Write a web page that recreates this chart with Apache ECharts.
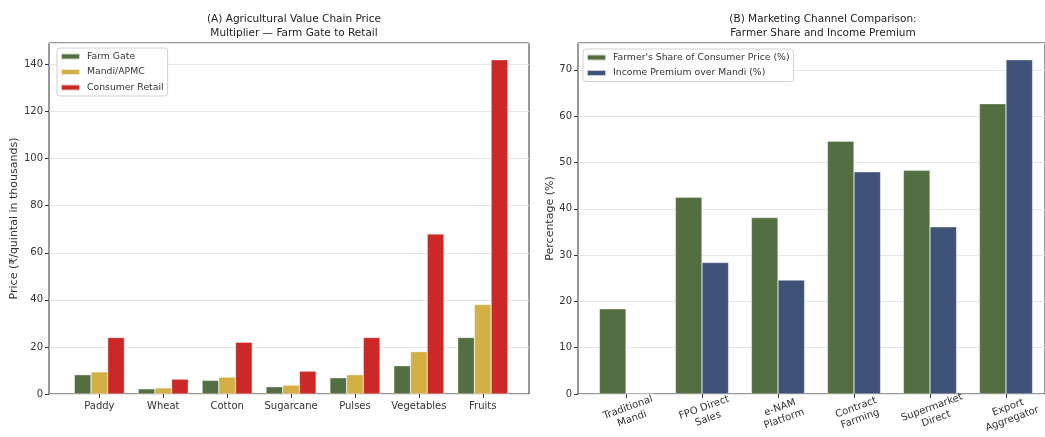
<!DOCTYPE html>
<html><head><meta charset="utf-8">
<script src="https://cdn.jsdelivr.net/npm/echarts@6/dist/echarts.min.js"></script>
<style>html,body{margin:0;padding:0;background:#fff}#c{width:1045px;height:437px}</style>
</head><body><div id="c"></div>
<script>
const catsA = ['Paddy','Wheat','Cotton','Sugarcane','Pulses','Vegetables','Fruits'];
const farmGate = [8.2,2.2,5.8,3.1,6.9,12.0,24.0];
const mandi = [9.4,2.6,7.2,3.8,8.2,18.0,38.0];
const retail = [24.0,6.3,22.0,9.7,24.0,68.0,142.0];
const catsB = ['Traditional\nMandi','FPO Direct\nSales','e-NAM\nPlatform','Contract\nFarming','Supermarket\nDirect','Export\nAggregator'];
const farmerShare = [18.4,42.5,38.1,54.6,48.3,62.7];
const incomePremium = [0,28.4,24.6,48.0,36.1,72.2];
const yMaxA = 142*1.05, yStepA = 20;
const yMaxB = 72.2*1.05, yStepB = 10;

const FONT = 'DejaVu Sans';
const txt = '#333';
const chart = echarts.init(document.getElementById('c'), null, {renderer:'canvas'});
const frameGrid = (l,w)=>({left:l, width:w, top:43, bottom:43, show:true, borderColor:'#333', borderWidth:1, backgroundColor:'transparent'});
const innerGrid = (l,w)=>({left:l, width:w, top:43, bottom:43});
const visY = (gi,max,step,name,gap)=>({gridIndex:gi, type:'value', min:0, max:max, interval:step,
  name:name, nameLocation:'middle', nameGap:gap, nameTextStyle:{fontFamily:FONT,fontSize:11,color:txt},
  axisLine:{show:false}, axisTick:{show:true,length:4,lineStyle:{color:'#333'}},
  axisLabel:{fontFamily:FONT,fontSize:10,color:txt,margin:6, showMaxLabel:false},
  splitLine:{show:true,lineStyle:{color:'#e6e6e6',width:1}}});
const hidY = (gi,max)=>({gridIndex:gi,type:'value',min:0,max:max,show:false});
const barStyle = c=>({color:c, borderColor:'rgba(255,255,255,0.7)', borderWidth:0.5});
const legendCommon = {orient:'vertical', itemWidth:19, itemHeight:6, itemGap:6.5, padding:[4,4,4,3],
  backgroundColor:'#fff', borderColor:'#d0d0d0', borderWidth:1, borderRadius:3, icon:'rect',
  textStyle:{fontFamily:FONT,fontSize:9.3,color:txt,padding:[0,0,0,2]}};

chart.setOption({
  animation:false,
  textStyle:{fontFamily:FONT},
  title:[
    {text:'(A) Agricultural Value Chain Price\nMultiplier — Farm Gate to Retail', left:289, top:7, textAlign:'center',
     textStyle:{fontFamily:FONT,fontSize:10.5,fontWeight:'normal',color:'#222',lineHeight:14}},
    {text:'(B) Marketing Channel Comparison:\nFarmer Share and Income Premium', left:818, top:7, textAlign:'center',
     textStyle:{fontFamily:FONT,fontSize:10.5,fontWeight:'normal',color:'#222',lineHeight:14}}
  ],
  legend:[
    Object.assign({data:['Farm Gate','Mandi/APMC','Consumer Retail'], left:57, top:48}, legendCommon),
    Object.assign({data:["Farmer's Share of Consumer Price (%)",'Income Premium over Mandi (%)'], left:583, top:49}, legendCommon)
  ],
  grid:[frameGrid(49,480), innerGrid(67.4,447.3), frameGrid(578,476), innerGrid(588,456)],
  xAxis:[
    {gridIndex:0,type:'value',min:0,max:1,show:false},
    {gridIndex:1,type:'category',data:catsA,axisLine:{show:false},
     axisTick:{show:true,alignWithLabel:true,length:4,lineStyle:{color:'#333'}},
     axisLabel:{fontFamily:FONT,fontSize:10,color:txt,margin:7,interval:0}},
    {gridIndex:2,type:'value',min:0,max:1,show:false},
    {gridIndex:3,type:'category',data:catsB,axisLine:{show:false},
     axisTick:{show:true,alignWithLabel:true,length:4,lineStyle:{color:'#333'}},
     axisLabel:{fontFamily:FONT,fontSize:10,color:txt,margin:8,interval:0,rotate:20,align:'center',verticalAlign:'top',lineHeight:12}}
  ],
  yAxis:[
    visY(0,yMaxA,yStepA,'Price (₹/quintal in thousands)',28),
    hidY(1,yMaxA),
    visY(2,yMaxB,yStepB,'Percentage (%)',22),
    hidY(3,yMaxB)
  ],
  series:[
    {name:'Farm Gate',type:'bar',xAxisIndex:1,yAxisIndex:1,data:farmGate,barWidth:16.7,barGap:'0%',itemStyle:barStyle('#536E40')},
    {name:'Mandi/APMC',type:'bar',xAxisIndex:1,yAxisIndex:1,data:mandi,barWidth:16.7,barGap:'0%',itemStyle:barStyle('#D4AF44')},
    {name:'Consumer Retail',type:'bar',xAxisIndex:1,yAxisIndex:1,data:retail,barWidth:16.7,barGap:'0%',itemStyle:barStyle('#CB2828')},
    {name:"Farmer's Share of Consumer Price (%)",type:'bar',xAxisIndex:3,yAxisIndex:3,data:farmerShare,barWidth:26.6,barGap:'0%',itemStyle:barStyle('#536E40')},
    {name:'Income Premium over Mandi (%)',type:'bar',xAxisIndex:3,yAxisIndex:3,data:incomePremium,barWidth:26.6,barGap:'0%',itemStyle:barStyle('#3F5378')}
  ]
});
</script></body></html>
